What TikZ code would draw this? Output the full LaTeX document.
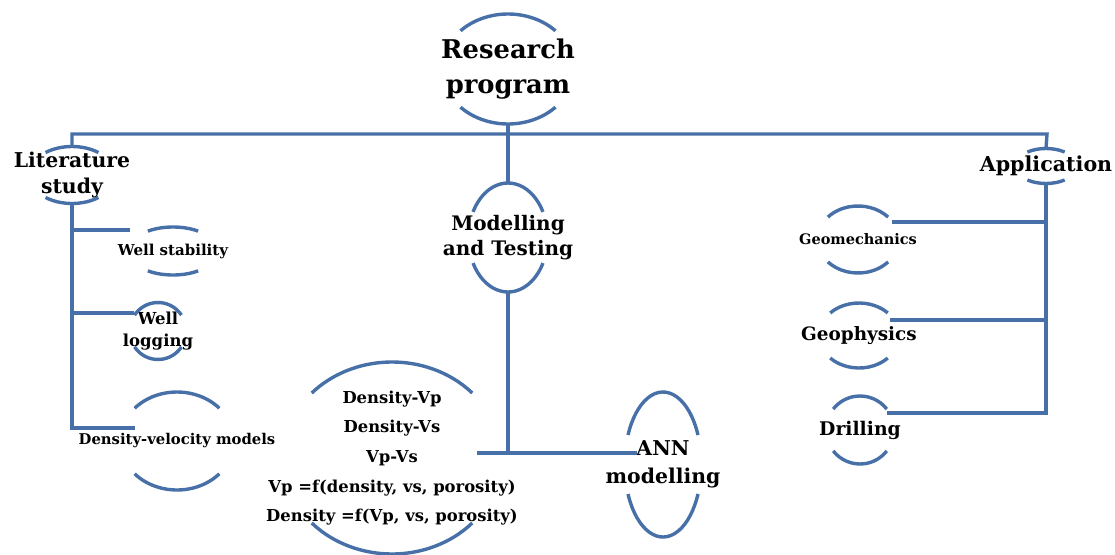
\documentclass[tikz,border=0pt]{standalone}
\usepackage{fontspec}
\setmainfont{DejaVu Serif}
\usetikzlibrary{calc}
\definecolor{lnblue}{RGB}{72,112,168}
\newcommand\halfarcs[4]{%
  \draw[ln] (#1.center) ++(#4:#2pt and #3pt) arc[start angle=#4, end angle=180-#4, x radius=#2pt, y radius=#3pt];
  \draw[ln] (#1.center) ++(180+#4:#2pt and #3pt) arc[start angle=180+#4, end angle=360-#4, x radius=#2pt, y radius=#3pt];
  \coordinate (#1-n) at ($(#1.center)+(0,#3pt)$);
  \coordinate (#1-s) at ($(#1.center)+(0,-#3pt)$);
}
\tikzset{
  ln/.style={draw=lnblue, line width=3.4pt},
  lbl/.style={align=center, inner sep=0pt, text=black},
}
\newcommand\fs[2]{\fontsize{#1}{#2}\selectfont\bfseries}
\begin{document}
\begin{tikzpicture}[x=1pt, y=-1pt]
\useasboundingbox (0,0) rectangle (1115,554);
% nodes
\node[lbl, font=\fs{25.8}{34.5}] (rp) at (508,69) {Research\\program};
\node[lbl, font=\fs{20.4}{26}] (lit) at (72,175) {Literature\\study};
\node[lbl, font=\fs{15}{18}] (ws) at (173,251) {Well stability};
\node[lbl, font=\fs{16.5}{22}] (wl) at (158,331) {Well\\logging};
\node[lbl, font=\fs{14.8}{18}] (dvm) at (177,441) {Density-velocity models};
\node[lbl, font=\fs{16.4}{29.7}] (dv) at (392,458) {Density-Vp\\Density-Vs\\Vp-Vs\\Vp =f(density, vs, porosity)\\Density =f(Vp, vs, porosity)};
\node[lbl, font=\fs{20}{25}] (mt) at (508,237.5) {Modelling\\and Testing};
\node[lbl, font=\fs{20.4}{28}] (ann) at (663,464.5) {ANN\\modelling};
\node[lbl, font=\fs{20.6}{24}] (app) at (1046,166) {Application};
\node[lbl, font=\fs{14.5}{18}] (geo) at (858,239.5) {Geomechanics};
\node[lbl, font=\fs{18.4}{22}] (gph) at (859,335.5) {Geophysics};
\node[lbl, font=\fs{18.8}{22}] (dri) at (860,430) {Drilling};
% arcs
\halfarcs{rp}{66}{55}{44}
\halfarcs{lit}{43}{28.5}{52}
\halfarcs{ws}{45}{24}{56}
\halfarcs{wl}{28.3}{28.5}{34}
\halfarcs{dvm}{57}{49}{42}
\halfarcs{dv}{109}{96}{42.6}
\halfarcs{mt}{39.6}{54.5}{28}
\halfarcs{ann}{38.3}{72.5}{24}
\halfarcs{app}{31}{17.5}{53}
\halfarcs{geo}{40.5}{33.5}{42}
\halfarcs{gph}{40}{32.5}{44}
\halfarcs{dri}{34}{34}{38}
% connector end points
\coordinate (busL) at (72,134);
\coordinate (busR) at (1047,134);
\coordinate (ws-in) at (130,230);
\coordinate (wl-in) at (134,313);
\coordinate (dvm-in) at (135,428);
\coordinate (dv-in) at (477,453);
\coordinate (ann-in) at (637,453);
\coordinate (geo-in) at (892,222);
\coordinate (gph-in) at (890,320);
\coordinate (dri-in) at (887,413);
% connectors
\draw[ln] (lit-n) -- (busL) -- (busR) -- (app-n);
\draw[ln] (rp-s) -- (rp-s |- busL) -- (mt-n);
\draw[ln] (lit-s) |- (dvm-in);
\draw[ln] (lit-s |- ws-in) -- (ws-in);
\draw[ln] (lit-s |- wl-in) -- (wl-in);
\draw[ln] (mt-s) |- (ann-in);
\draw[ln] (dv-in) -- (mt-s |- dv-in);
\draw[ln] (app-s) |- (dri-in);
\draw[ln] (app-s |- geo-in) -- (geo-in);
\draw[ln] (app-s |- gph-in) -- (gph-in);
\end{tikzpicture}
\end{document}
